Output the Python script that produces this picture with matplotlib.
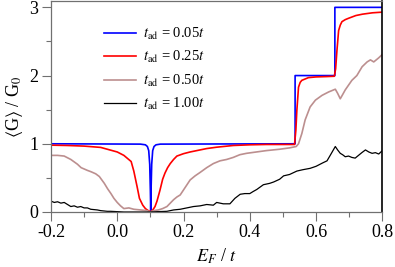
import numpy as np
import matplotlib
matplotlib.use('Agg')
from matplotlib import pyplot as plt
from matplotlib.ticker import MultipleLocator

plt.rcParams['font.family'] = ['Liberation Serif', 'DejaVu Serif']
plt.rcParams['mathtext.fontset'] = 'stix'

# t_ad = 0.05t
blue_x = [-0.2, 0.07, 0.085, 0.091, 0.095, 0.098, 0.1, 0.101, 0.102, 0.104, 0.107,
          0.111, 0.117, 0.13, 0.5367, 0.5367, 0.6567, 0.6567, 0.8]
blue_y = [1.0, 0.995, 0.985, 0.96, 0.9, 0.7, 0.3, 0.02, 0.3, 0.7, 0.9,
          0.96, 0.985, 0.995, 1.0, 2.0, 2.0, 3.0, 3.0]

# t_ad = 0.25t
red_x = [-0.2, -0.15, -0.10, -0.05, 0.0, 0.02, 0.042, 0.05, 0.06, 0.067, 0.077,
         0.085, 0.092, 0.1, 0.106, 0.114, 0.12, 0.129, 0.137, 0.144, 0.152, 0.16,
         0.17, 0.18, 0.2, 0.22, 0.25, 0.27, 0.3, 0.32, 0.35, 0.4, 0.45, 0.5,
         0.535, 0.539, 0.542, 0.547, 0.552, 0.557, 0.567, 0.577, 0.6, 0.63, 0.655,
         0.659, 0.663, 0.668, 0.673, 0.678, 0.688, 0.698, 0.72, 0.74, 0.77, 0.8]
red_y = [0.98, 0.975, 0.966, 0.947, 0.88, 0.83, 0.74, 0.6, 0.37, 0.2, 0.1,
         0.05, 0.025, 0.005, 0.02, 0.08, 0.16, 0.32, 0.48, 0.57, 0.65, 0.71,
         0.77, 0.82, 0.855, 0.88, 0.91, 0.93, 0.95, 0.96, 0.975, 0.985, 0.99, 0.99,
         0.99, 1.2, 1.49, 1.83, 1.9, 1.93, 1.95, 1.97, 1.98, 1.985, 1.99,
         2.1, 2.37, 2.66, 2.74, 2.79, 2.82, 2.84, 2.88, 2.9, 2.92, 2.93]

# t_ad = 0.50t
brown_x = [-0.2, -0.18, -0.16, -0.14, -0.12, -0.109, -0.09, -0.079, -0.065, -0.054,
           -0.039, -0.029, -0.019, -0.01, 0.0, 0.01, 0.02, 0.035, 0.05, 0.07, 0.09,
           0.1, 0.11, 0.124, 0.137, 0.15, 0.16, 0.17, 0.18, 0.19, 0.205, 0.22, 0.235,
           0.25, 0.27, 0.29, 0.31, 0.33, 0.35, 0.37, 0.39, 0.42, 0.45, 0.49, 0.52,
           0.54, 0.547, 0.557, 0.567, 0.582, 0.598, 0.618, 0.638, 0.658, 0.665, 0.673,
           0.68, 0.688, 0.698, 0.708, 0.723, 0.739, 0.754, 0.764, 0.774, 0.789, 0.8]
brown_y = [0.83, 0.83, 0.82, 0.77, 0.7, 0.65, 0.61, 0.59, 0.56, 0.52,
           0.42, 0.34, 0.27, 0.2, 0.14, 0.09, 0.05, 0.06, 0.04, 0.03, 0.02,
           0.0, 0.02, 0.03, 0.05, 0.08, 0.13, 0.18, 0.22, 0.25, 0.36, 0.47, 0.53,
           0.58, 0.65, 0.71, 0.75, 0.77, 0.8, 0.84, 0.86, 0.88, 0.9, 0.92, 0.94,
           0.96, 1.0, 1.15, 1.35, 1.54, 1.64, 1.71, 1.76, 1.8, 1.74, 1.66,
           1.72, 1.79, 1.86, 1.93, 2.0, 2.13, 2.2, 2.23, 2.2, 2.26, 2.31]

# t_ad = 1.00t
black_x = [-0.2, -0.19, -0.18, -0.17, -0.16, -0.15, -0.14, -0.13, -0.12, -0.11,
           -0.1, -0.09, -0.08, -0.07, -0.06, -0.05, -0.04, -0.03, -0.02, 0.0,
           0.02, 0.05, 0.08, 0.1, 0.12, 0.15, 0.17, 0.19, 0.2, 0.21,
           0.23, 0.25, 0.27, 0.29, 0.3, 0.32, 0.34, 0.355, 0.371, 0.385,
           0.4, 0.41, 0.421, 0.441, 0.46, 0.472, 0.49, 0.502, 0.52, 0.542,
           0.56, 0.582, 0.6, 0.62, 0.633, 0.645, 0.658, 0.665, 0.673, 0.68,
           0.688, 0.698, 0.708, 0.718, 0.728, 0.738, 0.749, 0.759, 0.769, 0.779,
           0.789, 0.8]
black_y = [0.16, 0.14, 0.15, 0.13, 0.14, 0.11, 0.08, 0.09, 0.07, 0.08,
           0.06, 0.06, 0.04, 0.035, 0.03, 0.02, 0.015, 0.01, 0.01, 0.005,
           0.0, 0.0, 0.0, 0.0, 0.005, 0.01, 0.03, 0.04, 0.05, 0.06,
           0.08, 0.09, 0.11, 0.1, 0.14, 0.12, 0.12, 0.2, 0.26, 0.27,
           0.27, 0.3, 0.33, 0.4, 0.42, 0.44, 0.48, 0.53, 0.55, 0.6,
           0.62, 0.64, 0.67, 0.72, 0.75, 0.85, 0.96, 0.91, 0.86, 0.84,
           0.81, 0.82, 0.8, 0.79, 0.83, 0.87, 0.91, 0.88, 0.86, 0.87,
           0.85, 0.9]

labels = [r'$t_{\rm ad}$ = 0.05$t$', r'$t_{\rm ad}$ = 0.25$t$',
          r'$t_{\rm ad}$ = 0.50$t$', r'$t_{\rm ad}$ = 1.00$t$']

fig = plt.figure(figsize=(3.95, 2.67), dpi=100)
ax = fig.add_axes([0.129, 0.206, 0.839, 0.792])

ax.plot(blue_x, blue_y, color='#0000ff', lw=1.2, label=labels[0])
ax.plot(red_x, red_y, color='#ff0000', lw=1.2, label=labels[1])
ax.plot(brown_x, brown_y, color='#bc8f8f', lw=1.2, label=labels[2])
ax.plot(black_x, black_y, color='black', lw=0.9, label=labels[3])

ax.set_xlim(-0.2, 0.8)
ax.set_ylim(0, 3.1)
ax.xaxis.set_major_locator(MultipleLocator(0.2))
ax.xaxis.set_minor_locator(MultipleLocator(0.1))
ax.yaxis.set_major_locator(MultipleLocator(1))
ax.yaxis.set_minor_locator(MultipleLocator(0.5))
ax.xaxis.set_major_formatter(matplotlib.ticker.FormatStrFormatter('%.1f'))
ax.tick_params(which='major', direction='out', length=6.5, width=0.8,
               color='#707070', labelsize=13, pad=2.5)
ax.tick_params(which='minor', direction='out', length=3.5, width=0.8, color='#707070')
for s in ['left', 'top', 'bottom']:
    ax.spines[s].set_color('#707070')
    ax.spines[s].set_linewidth(0.9)
ax.spines['right'].set_linewidth(1.2)

ax.set_xlabel(r'$E_F$ / $t$', fontsize=13, labelpad=4)
ax.set_ylabel(r'$\langle$G$\rangle$ / G$_0$', fontsize=13, labelpad=3)

ax.legend(loc='upper left', bbox_to_anchor=(0.16, 0.88), frameon=False,
          fontsize=10.5, handlelength=2.2, handletextpad=0.5, labelspacing=0.5,
          borderpad=0, borderaxespad=0)

fig.savefig('out.png', dpi=100)
